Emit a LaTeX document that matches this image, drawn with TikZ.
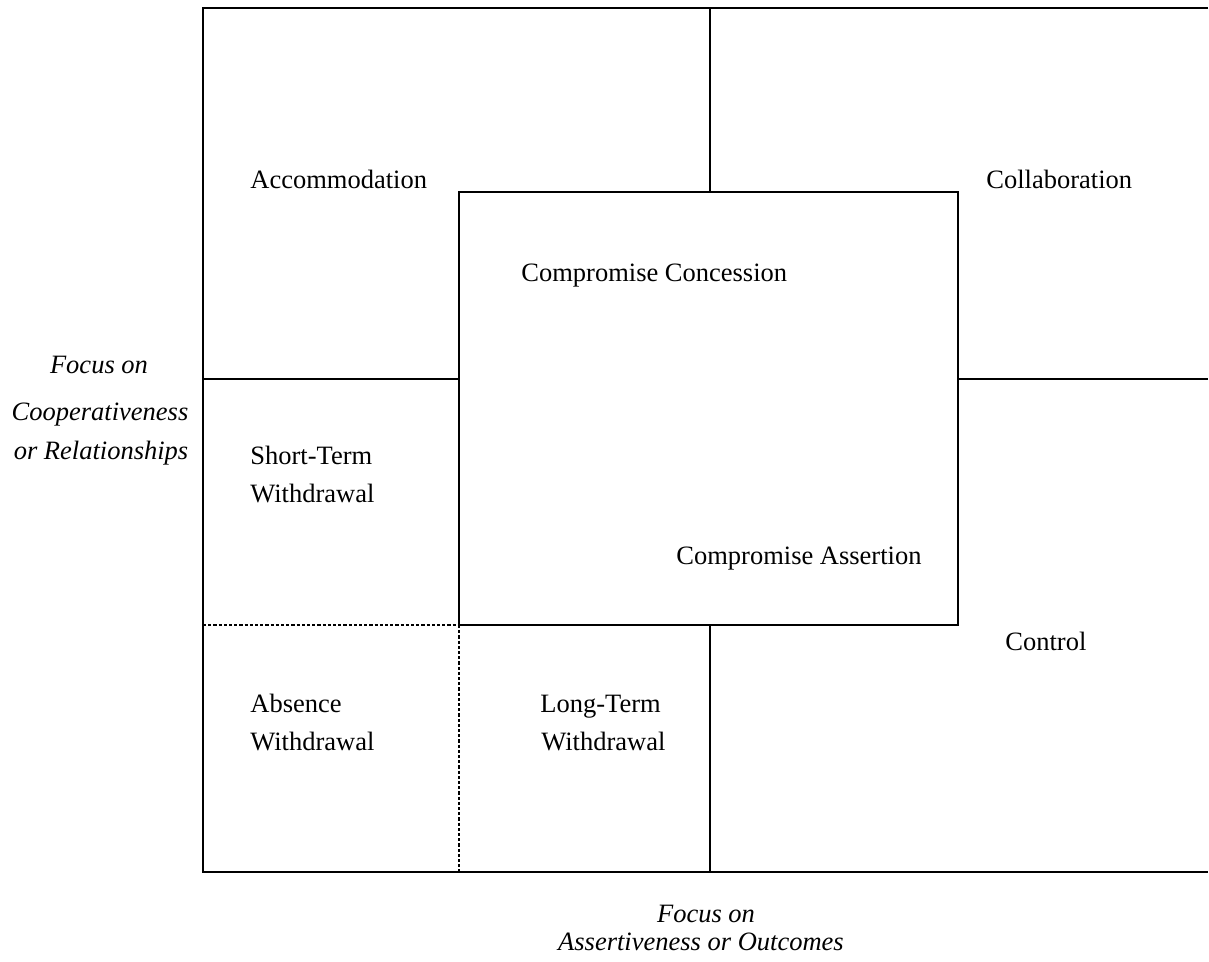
\documentclass[tikz,border=0pt]{standalone}
\usepackage{fontspec}
\setmainfont{Liberation Serif}
\usepackage{tikz}

\tikzset{
	label/.style={anchor=base west, inner sep=0pt, font=\fontsize{13.25}{16}\selectfont},
	axislabel/.style={anchor=base, inner sep=0pt, font=\fontsize{13.25}{16}\selectfont\itshape},
	divider/.style={line width=1pt},
	softdivider/.style={line width=0.9pt, dash pattern=on 1.6pt off 1pt}
}

\begin{document}
\begin{tikzpicture}[x=0.5pt,y=-0.5pt]
	\useasboundingbox (0,0) rectangle (1209,962);
	\coordinate (tl) at (203,8);
	\coordinate (tr) at (1208,8);
	\coordinate (bl) at (203,872);
	\coordinate (br) at (1208,872);
	\draw[divider] (tr) -- (tl) -- (bl) -- (br);
	\draw[divider] (710,8) -- (710,192);
	\draw[divider] (459,192) rectangle (958,625);
	\draw[divider] (203,379) -- (459,379);
	\draw[divider] (958,379) -- (1208,379);
	\draw[divider] (710,625) -- (710,872);
	\draw[softdivider] (203,625) -- (459,625);
	\draw[softdivider] (459,625) -- (459,872);
	\node[label] (accom) at (250,189) {Accommodation};
	\node[label] (collab) at (986,189) {Collaboration};
	\node[label] (concession) at (521,282) {Compromise Concession};
	\node[label] (assertion) at (676,564) {Compromise Assertion};
	\node[label] (short) at (250,464) {Short-Term};
	\node[label] (shortw) at (250,502) {Withdrawal};
	\node[label] (control) at (1005,650) {Control};
	\node[label] (absence) at (250,712) {Absence};
	\node[label] (absencew) at (250,750) {Withdrawal};
	\node[label] (long) at (540,712) {Long-Term};
	\node[label] (longw) at (541,750) {Withdrawal};
	\node[axislabel] (yfocus) at (99,373) {Focus on};
	\node[axislabel] (ycoop) at (100,421) {Cooperativeness};
	\node[axislabel] (yrel) at (101,459) {or Relationships};
	\node[axislabel] (xfocus) at (706,922) {Focus on};
	\node[axislabel] (xassert) at (701,950) {Assertiveness or Outcomes};
\end{tikzpicture}
\end{document}
